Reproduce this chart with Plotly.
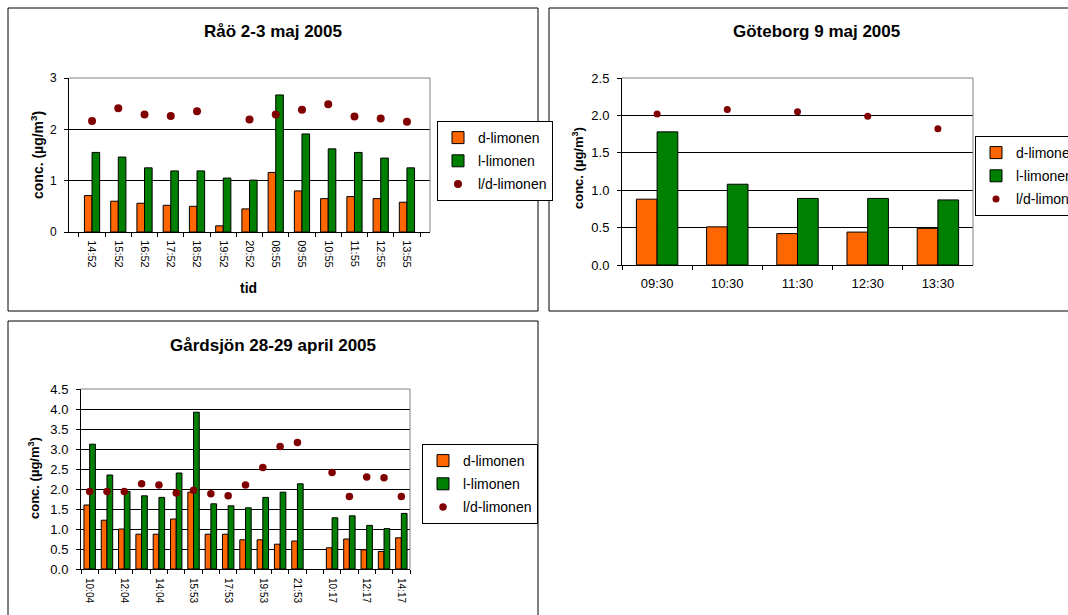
import plotly.graph_objects as go

# ---------------- data ----------------
# Råö 2-3 maj 2005
rao_cats = ["14:52", "15:52", "16:52", "17:52", "18:52", "19:52", "20:52",
            "08:55", "09:55", "10:55", "11:55", "12:55", "13:55"]
rao_d = [0.71, 0.60, 0.56, 0.52, 0.50, 0.12, 0.45, 1.16, 0.80, 0.65, 0.69, 0.65, 0.58]
rao_l = [1.55, 1.46, 1.25, 1.19, 1.19, 1.05, 1.01, 2.67, 1.91, 1.62, 1.55, 1.44, 1.25]
rao_ratio = [2.16, 2.41, 2.29, 2.26, 2.35, None, 2.19, 2.29, 2.38, 2.49, 2.25, 2.21, 2.15]

# Göteborg 9 maj 2005
gbg_cats = ["09:30", "10:30", "11:30", "12:30", "13:30"]
gbg_d = [0.88, 0.51, 0.42, 0.44, 0.49]
gbg_l = [1.78, 1.08, 0.89, 0.89, 0.87]
gbg_ratio = [2.02, 2.08, 2.05, 1.99, 1.82]

# Gårdsjön 28-29 april 2005
gard_cats = ["10:04", "11:04", "12:04", "13:04", "14:04", "14:53", "15:53", "16:53",
             "17:53", "18:53", "19:53", "20:53", "21:53", " ", "10:17", "11:17",
             "12:17", "13:17", "14:17"]
gard_d = [1.60, 1.22, 1.00, 0.87, 0.87, 1.25, 1.92, 0.87, 0.87, 0.73, 0.73, 0.62, 0.70,
          None, 0.53, 0.75, 0.48, 0.44, 0.78]
gard_l = [3.12, 2.35, 1.94, 1.83, 1.79, 2.40, 3.92, 1.63, 1.58, 1.53, 1.79, 1.92, 2.13,
          None, 1.28, 1.33, 1.09, 1.01, 1.39]
gard_ratio = [1.94, 1.94, 1.94, 2.13, 2.10, 1.90, 1.97, 1.88, 1.83, 2.10, 2.54, 3.06, 3.16,
              None, 2.41, 1.81, 2.30, 2.28, 1.81]
gard_shown = gard_cats[::2]   # labels printed every second category

names = ["d-limonen", "l-limonen", "l/d-limonen"]

# ---------------- style ----------------
W, H = 1068, 615
FONT = "Liberation Sans, Arial, sans-serif"
ORANGE = "#FF6600"
GREEN = "#008000"
DARKRED = "#800000"


def px_x(x):
    return x / W


def px_y(y):
    return 1 - y / H


fig = go.Figure()


def add_panel(idx, cats, d, l, r, w, msize):
    sfx = "" if idx == 1 else str(idx)
    xa, ya = "x" + sfx, "y" + sfx
    leg = "legend" + sfx
    fig.add_trace(go.Bar(x=cats, y=d, name=names[0], xaxis=xa, yaxis=ya, legend=leg,
                         legendgroup=f"a{idx}", offset=-w, width=w,
                         marker=dict(color=ORANGE, line=dict(color="black", width=1))))
    fig.add_trace(go.Bar(x=cats, y=l, name=names[1], xaxis=xa, yaxis=ya, legend=leg,
                         legendgroup=f"b{idx}", offset=0, width=w,
                         marker=dict(color=GREEN, line=dict(color="black", width=1))))
    fig.add_trace(go.Scatter(x=cats, y=r, name=names[2], mode="markers", xaxis=xa, yaxis=ya,
                             legend=leg, legendgroup=f"c{idx}",
                             marker=dict(color=DARKRED, size=msize)))


add_panel(1, rao_cats, rao_d, rao_l, rao_ratio, 0.29, 8)
add_panel(2, gbg_cats, gbg_d, gbg_l, gbg_ratio, 0.295, 7)
add_panel(3, gard_cats, gard_d, gard_l, gard_ratio, 0.33, 7.5)

# invisible helper trace so the tick-only overlay axis knows the categories
fig.add_trace(go.Scatter(x=gard_cats, y=[None] * len(gard_cats), xaxis="x4", yaxis="y3",
                         showlegend=False, hoverinfo="skip", mode="markers"))

common_x = dict(type="category", showline=True, linecolor="black", linewidth=1,
                ticks="outside", ticklen=4, tickcolor="black", tickson="boundaries",
                showgrid=False, zeroline=False, color="black", fixedrange=True)
common_y = dict(showline=True, linecolor="black", linewidth=1, ticks="outside", ticklen=4,
                tickcolor="black", showgrid=True, gridcolor="#000000", gridwidth=1,
                zeroline=False, color="black", fixedrange=True, ticklabelstandoff=5)

fig.update_layout(
    xaxis=dict(common_x, domain=[px_x(69), px_x(430)], anchor="y", tickangle=90,
               ticklabelstandoff=5, tickfont=dict(family=FONT, size=11)),
    yaxis=dict(common_y, domain=[px_y(232), px_y(78)], anchor="x", range=[0, 3], dtick=1,
               tickfont=dict(family=FONT, size=12)),
    xaxis2=dict(common_x, domain=[px_x(622), px_x(973)], anchor="y2", tickangle=0,
                ticklabelstandoff=6, tickfont=dict(family=FONT, size=13)),
    yaxis2=dict(common_y, domain=[px_y(265), px_y(78)], anchor="x2", range=[0, 2.5], dtick=0.5,
                tickformat=".1f", tickfont=dict(family=FONT, size=13)),
    xaxis3=dict(common_x, domain=[px_x(81), px_x(410)], anchor="y3", tickangle=90,
                ticks="", tickson="labels", range=[-0.5, len(gard_cats) - 0.5],
                categoryorder="array", categoryarray=gard_cats,
                tickmode="array", tickvals=gard_shown, ticktext=gard_shown,
                ticklabelstandoff=6, tickfont=dict(family=FONT, size=10)),
    xaxis4=dict(common_x, domain=[px_x(81), px_x(410)], anchor="y3", overlaying="x3",
                range=[-0.5, len(gard_cats) - 0.5], categoryorder="array",
                categoryarray=gard_cats, tickmode="array", tickvals=gard_cats,
                showticklabels=False, showline=False),
    yaxis3=dict(common_y, domain=[px_y(569), px_y(389)], anchor="x3", range=[0, 4.5], dtick=0.5,
                tickformat=".1f", tickfont=dict(family=FONT, size=13)),
)

leg_common = dict(bgcolor="white", bordercolor="black", borderwidth=1,
                  font=dict(family=FONT, size=14, color="black"), traceorder="grouped",
                  tracegroupgap=2, xanchor="left", yanchor="top", itemclick=False,
                  itemdoubleclick=False)
fig.update_layout(
    legend=dict(leg_common, x=px_x(437), y=px_y(121)),
    legend2=dict(leg_common, x=px_x(975), y=px_y(136)),
    legend3=dict(leg_common, x=px_x(422), y=px_y(444)),
)

# panel frames and plot-area borders
shapes = []
for (x0, y0, x1, y1) in [(8, 8, 538, 311), (549, 8, 1080, 311), (8, 321, 538, 630)]:
    shapes.append(dict(type="rect", xref="paper", yref="paper", x0=px_x(x0), x1=px_x(x1),
                       y0=px_y(y1), y1=px_y(y0), line=dict(color="black", width=1),
                       fillcolor="rgba(0,0,0,0)", layer="below"))
for sfx in ["", "2", "3"]:
    shapes.append(dict(type="line", xref=f"x{sfx} domain", yref=f"y{sfx} domain",
                       x0=0, x1=1, y0=1, y1=1, line=dict(color="#808080", width=1)))
    shapes.append(dict(type="line", xref=f"x{sfx} domain", yref=f"y{sfx} domain",
                       x0=1, x1=1, y0=0, y1=1, line=dict(color="#808080", width=1)))

ytitle = "<b>conc. (µg/m<sup>3</sup>)</b>"
annotations = [
    dict(text="<b>Råö 2-3 maj 2005</b>", x=px_x(273), y=px_y(32), size=17),
    dict(text="<b>Göteborg 9 maj 2005</b>", x=px_x(816), y=px_y(32), size=17),
    dict(text="<b>Gårdsjön 28-29 april 2005</b>", x=px_x(273), y=px_y(345), size=17),
    dict(text=ytitle, x=px_x(37), y=px_y(155), size=14, angle=-90),
    dict(text=ytitle, x=px_x(578), y=px_y(168), size=13, angle=-90),
    dict(text=ytitle, x=px_x(34), y=px_y(478), size=13, angle=-90),
    dict(text="<b>tid</b>", x=px_x(249), y=px_y(288), size=14),
]
ann = []
for a in annotations:
    ann.append(dict(text=a["text"], x=a["x"], y=a["y"], xref="paper", yref="paper",
                    xanchor="center", yanchor="middle", showarrow=False,
                    textangle=a.get("angle", 0),
                    font=dict(family=FONT, size=a["size"], color="black")))

fig.update_layout(
    width=W, height=H,
    margin=dict(l=0, r=0, t=0, b=0, pad=0, autoexpand=False),
    paper_bgcolor="white", plot_bgcolor="white",
    barmode="overlay", showlegend=True,
    shapes=shapes, annotations=ann,
    font=dict(family=FONT, color="black"),
)

fig.write_html("out.html", config={"displayModeBar": False},
               post_script="document.body.style.margin='0';"
                           "document.body.style.overflow='hidden';"
                           "document.documentElement.style.overflow='hidden';")
